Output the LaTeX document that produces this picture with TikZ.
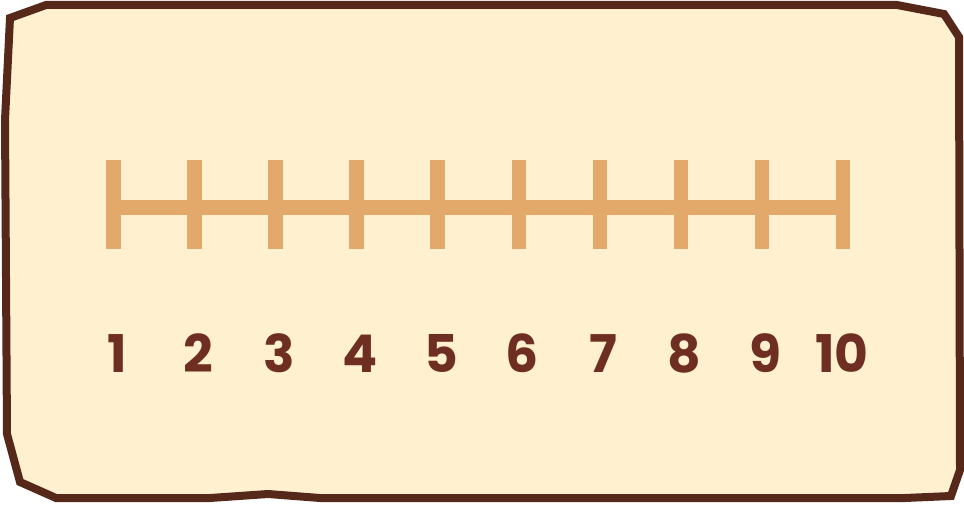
\documentclass[tikz,border=0pt]{standalone}
\usepackage{fontspec}
\setmainfont{Poppins}
\definecolor{bordc}{HTML}{55281A}
\definecolor{paper}{HTML}{FFF1D0}
\definecolor{linec}{HTML}{E2A96B}
\definecolor{numc}{HTML}{6F2E22}
\tikzset{
  numlbl/.style={text=numc, font=\fontsize{52}{52}\selectfont\bfseries, anchor=base, inner sep=0pt},
  tickline/.style={draw=linec, line width=14.5pt},
  axisline/.style={draw=linec, line width=15pt},
}
\begin{document}
\begin{tikzpicture}[x=1pt,y=-1pt]
\useasboundingbox (0,0) rectangle (964,505);
\draw[bordc, line width=8pt, line join=miter, fill=paper]
  (10,18) -- (46,5) -- (897,5) -- (944,14) -- (959,37) -- (960,470) -- (951,496)
  -- (905,498) -- (320,498) -- (268,494) -- (210,498) -- (56,498) -- (20,482)
  -- (7,434) -- (5,120) -- cycle;
\draw[axisline] (106,208) -- (850,208);
\foreach \i in {1,...,10}{
  \coordinate (t\i) at ({113.3+81.1*(\i-1)},160);
  \coordinate (b\i) at ({113.3+81.1*(\i-1)},249);
  \draw[tickline] (t\i) -- (b\i);
}
\foreach \i in {1,...,9}{
  \node[numlbl] (n\i) at ({117+81.1*(\i-1)},372) {\i};
}
\node[numlbl] (n10) at (842,372) {10};
\end{tikzpicture}
\end{document}
